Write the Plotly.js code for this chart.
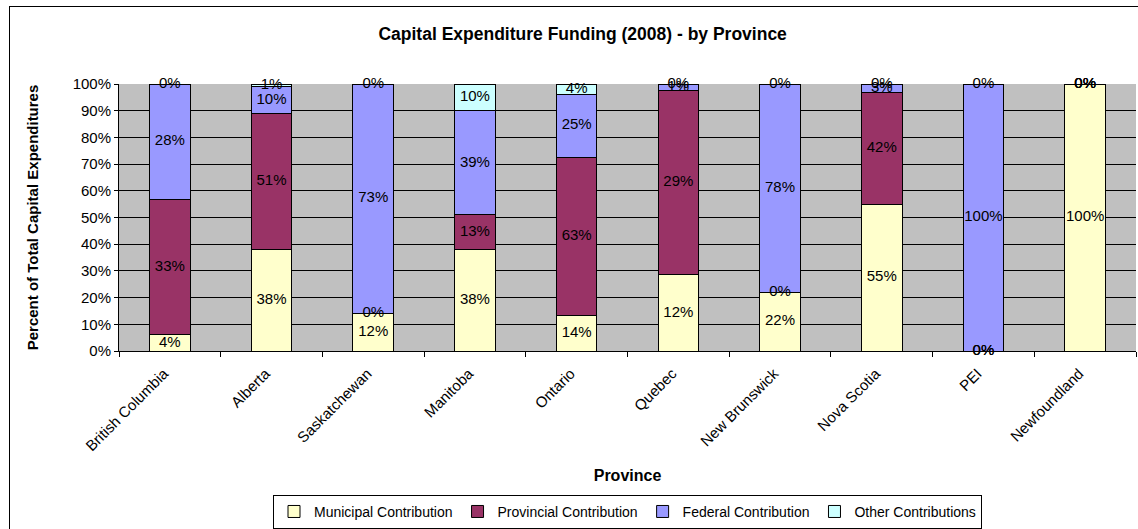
<!DOCTYPE html>
<html>
<head>
<meta charset="utf-8">
<script src="https://cdn.plot.ly/plotly-3.0.1.min.js"></script>
<style>
  html, body { margin: 0; padding: 0; background: #fff; }
  #wrap { position: relative; width: 1138px; height: 529px; overflow: hidden; }
  #chart { position: absolute; left: 0; top: 0; width: 1138px; height: 529px; }
  #frame { position: absolute; left: 9px; top: 6px; width: 1140px; height: 540px;
           border: 1px solid #000; pointer-events: none; box-sizing: border-box; }
</style>
</head>
<body>
<div id="wrap">
  <div id="chart"></div>
  <div id="frame"></div>
</div>
<script>
// ---- data (percent values as labelled in the reference) ----
const provinces = ["British Columbia", "Alberta", "Saskatchewan", "Manitoba", "Ontario",
                   "Quebec", "New Brunswick", "Nova Scotia", "PEI", "Newfoundland"];
const municipal  = [4, 38, 12, 38, 14, 12, 22, 55, 0, 100];
const provincial = [33, 51, 0, 13, 63, 29, 0, 42, 0, 0];
const federal    = [28, 10, 73, 39, 25, 1, 78, 3, 100, 0];
const other      = [0, 1, 0, 10, 4, 0, 0, 0, 0, 0];
const seriesNames = ["Municipal Contribution", "Provincial Contribution",
                     "Federal Contribution", "Other Contributions"];
const yTicks = [0, 10, 20, 30, 40, 50, 60, 70, 80, 90, 100];

// ---- styling ----
const colors = ["#FFFFCC", "#993366", "#9999FF", "#CCFFFF"];
const FONT = "Liberation Sans, Arial, sans-serif";
const series = [municipal, provincial, federal, other];

const traces = [];
series.forEach((vals, i) => {
  traces.push({
    type: "bar",
    name: seriesNames[i],
    x: provinces,
    y: vals,
    marker: { color: colors[i], line: { color: "#000", width: 1 } },
    hoverinfo: "x+y+name"
  });
});

// data labels: centred in each (normalised) segment, zero segments at their boundary
const totals = provinces.map((_, j) => series.reduce((s, v) => s + v[j], 0));
series.forEach((vals, i) => {
  const ys = provinces.map((_, j) => {
    let below = 0;
    for (let k = 0; k < i; k++) below += series[k][j];
    return (below + vals[j] / 2) / totals[j] * 100;
  });
  traces.push({
    type: "scatter",
    mode: "text",
    x: provinces,
    y: ys,
    text: vals.map(v => v + "%"),
    textposition: "middle center",
    textfont: { family: FONT, size: 15, color: "#000" },
    showlegend: false,
    hoverinfo: "skip",
    cliponaxis: false
  });
});

const layout = {
  width: 1138,
  height: 529,
  margin: { l: 119, r: 2, t: 84, b: 177 },
  paper_bgcolor: "#ffffff",
  plot_bgcolor: "#C0C0C0",
  barmode: "stack",
  barnorm: "percent",
  bargap: 0.6,
  font: { family: FONT, size: 15, color: "#000" },
  title: {
    text: "<b>Capital Expenditure Funding (2008) - by Province</b>",
    font: { family: FONT, size: 17.5, color: "#000" },
    x: 0.512, xref: "container", xanchor: "center",
    y: 0.936, yref: "container", yanchor: "middle"
  },
  xaxis: {
    type: "category",
    tickangle: -45,
    tickson: "boundaries",
    ticks: "outside",
    ticklen: 5,
    tickcolor: "#000",
    ticklabelshift: -6,
    ticklabelstandoff: 7,
    showline: true,
    linecolor: "#000",
    linewidth: 1,
    showgrid: false,
    tickfont: { family: FONT, size: 15, color: "#000" },
    title: { text: "<b>Province</b>", font: { family: FONT, size: 16, color: "#000" }, standoff: 16 },
    automargin: false,
    fixedrange: true
  },
  yaxis: {
    range: [0, 100],
    tickvals: yTicks,
    ticktext: yTicks.map(t => t + "%"),
    ticks: "outside",
    ticklen: 4,
    tickcolor: "#000",
    showline: true,
    linecolor: "#000",
    linewidth: 1,
    showgrid: true,
    gridcolor: "#000",
    gridwidth: 1,
    zeroline: false,
    tickfont: { family: FONT, size: 15, color: "#000" },
    title: { text: "<b>Percent of Total Capital Expenditures</b>",
             font: { family: FONT, size: 15, color: "#000" }, standoff: 30 },
    automargin: false,
    fixedrange: true
  },
  legend: {
    orientation: "h",
    x: 0.5, xanchor: "center",
    y: -0.66, yanchor: "bottom",
    bgcolor: "#fff",
    bordercolor: "#000",
    borderwidth: 1,
    font: { family: FONT, size: 14, color: "#000" },
    itemwidth: 30,
    tracegroupgap: 0,
    traceorder: "normal"
  },
  showlegend: true
};

Plotly.newPlot("chart", traces, layout, { displayModeBar: false, staticPlot: true });
</script>
</body>
</html>
